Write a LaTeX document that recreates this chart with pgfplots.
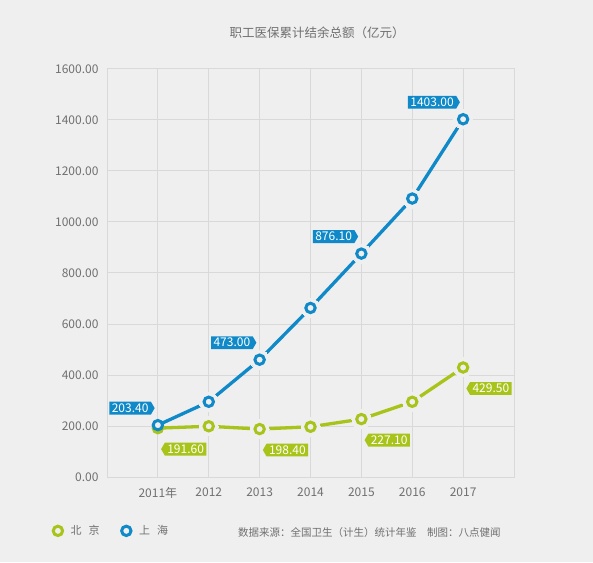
\documentclass[border=0pt]{standalone}
\usepackage{pgfplots}
\pgfplotsset{compat=1.18}
\usepackage{fontspec}
\setmainfont{Noto Sans CJK SC}
\usetikzlibrary{shapes.symbols}

\definecolor{bgc}{HTML}{EFEFEF}
\definecolor{gridc}{HTML}{D9D9D9}
\definecolor{bj}{HTML}{A8C41A}
\definecolor{sh}{HTML}{1089C8}
\definecolor{txt}{HTML}{707070}

\begin{document}
\begin{tikzpicture}[x=1pt,y=1pt]
\fill[bgc] (0,0) rectangle (593,562);
\begin{axis}[
    at={(107pt,85pt)}, anchor=south west,
    scale only axis, width=407pt, height=408pt,
    xmin=2010, xmax=2018, ymin=0, ymax=1600,
    xtick={2011,2012,2013,2014,2015,2016,2017},
    xticklabels={2011年,2012,2013,2014,2015,2016,2017},
    ytick={0,200,400,600,800,1000,1200,1400,1600},
    /pgf/number format/.cd, fixed, fixed zerofill, precision=2, 1000 sep={}, assume math mode=true,
    /pgfplots/.cd,
    grid=major,
    major grid style={gridc, line width=1pt},
    axis line style={gridc, line width=1pt},
    tick style={draw=none},
    ticklabel style={font=\fontsize{12}{14}\selectfont, text=txt},
    xticklabel style={yshift=-7pt},
    yticklabel style={xshift=-5pt},
    clip=false,
    legend style={at={(-0.14,-0.132)}, anchor=west, draw=none, fill=none,
        legend columns=2, font=\fontsize{11}{13}\selectfont, text=txt,
        /tikz/every even column/.append style={column sep=20pt}},
    legend image code/.code={\draw[#1] plot coordinates {(4pt,0pt)};},
]
% lines
\addplot[bj, line width=3.3pt, forget plot] coordinates {
    (2011,191.6) (2012,199) (2013,188) (2014,197) (2015,227.1) (2016,295) (2017,429.5)
};
\addplot[sh, line width=3.3pt, forget plot] coordinates {
    (2011,203.4) (2012,295) (2013,460) (2014,663) (2015,876.1) (2016,1092) (2017,1403)
};
% gaps round the points
\addplot[bgc, only marks, mark=*, mark size=9.5pt, mark options={fill=bgc, draw=bgc, line width=0pt}, forget plot] coordinates {
    (2012,199) (2013,188) (2014,197) (2015,227.1) (2016,295) (2017,429.5)
    (2012,295) (2013,460) (2014,663) (2015,876.1) (2016,1092) (2017,1403)
};
% rings
\addplot[bj, only marks, mark=*, mark size=4.7pt, mark options={fill=bgc, draw=bj, line width=3pt}] coordinates {
    (2011,191.6) (2012,199) (2013,188) (2014,197) (2015,227.1) (2016,295) (2017,429.5)
};
\addlegendentry{\hspace{6pt}北\hspace{7pt}京}
\addplot[sh, only marks, mark=*, mark size=4.7pt, mark options={fill=bgc, draw=sh, line width=3pt}] coordinates {
    (2011,203.4) (2012,295) (2013,460) (2014,663) (2015,876.1) (2016,1092) (2017,1403)
};
\addlegendentry{\hspace{6pt}上\hspace{7pt}海}
% value tags
\addplot[draw=none, mark=none, forget plot, nodes near coords, point meta=explicit symbolic,
    every node near coord/.style={signal, signal to=west, signal pointer angle=120,
        fill=bj, text=white, font=\fontsize{12}{14}\selectfont,
        inner xsep=2.5pt, inner ysep=2pt, anchor=west, xshift=3pt, yshift=-21pt}]
    coordinates {(2011,191.6)[191.60] (2013,188)[198.40] (2015,227.1)[227.10] (2017,429.5)[429.50]};
\addplot[draw=none, mark=none, forget plot, nodes near coords, point meta=explicit symbolic,
    every node near coord/.style={signal, signal to=east, signal pointer angle=120,
        fill=sh, text=white, font=\fontsize{12}{14}\selectfont,
        inner xsep=2.5pt, inner ysep=2pt, anchor=east, xshift=-3pt, yshift=17pt}]
    coordinates {(2011,203.4)[203.40] (2013,460)[473.00] (2015,876.1)[876.10] (2017,1403)[1403.00]};
\end{axis}
\node[font=\fontsize{12.5}{14}\selectfont, text=txt] at (317,529) {职工医保累计结余总额（亿元）};
\node[anchor=west, inner sep=0pt, font=\fontsize{10.5}{12}\selectfont, text=txt] at (238,29)
    {数据来源：全国卫生（计生）统计年鉴\quad 制图：八点健闻};
\end{tikzpicture}
\end{document}
